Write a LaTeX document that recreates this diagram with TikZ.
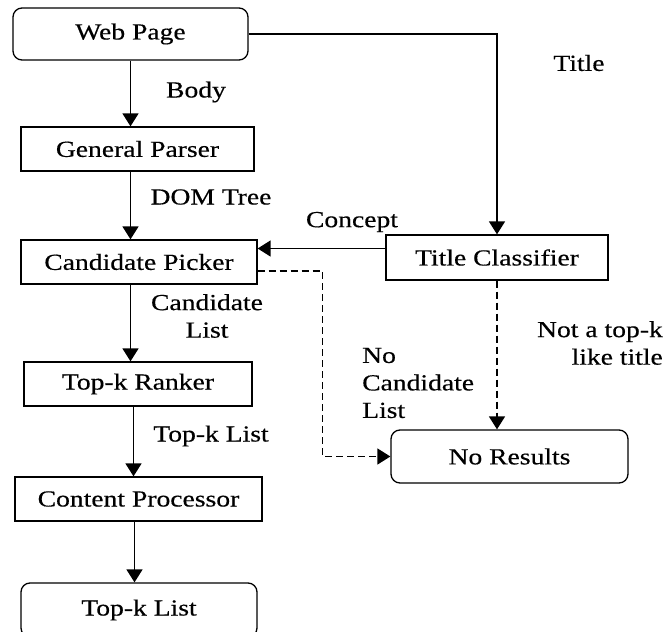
\documentclass[tikz,border=0pt]{standalone}
\usepackage{fontspec}
\setmainfont[FakeStretch=1.2, FakeBold=0.4]{Liberation Serif}
\usetikzlibrary{arrows.meta}
\tikzset{
    box/.style={draw, rectangle, line width=1.3pt, minimum height=44pt, inner sep=2pt},
    rbox/.style={box, rounded corners=9pt, minimum height=52pt},
    arr/.style={line width=1.6pt, -{Triangle[width=16pt,length=13pt]}},
    lbl/.style={inner sep=0pt, align=center}
}

\begin{document}
\begin{tikzpicture}[x=1pt, y=-1pt, font=\fontsize{23}{27.5}\selectfont]
    \clip (0,0) rectangle (665,632);

    \node[rbox, minimum width=235pt] (web) at (130.5,34) {Web Page};
    \node[box, minimum width=233pt] (parser) at (137.5,149) {General Parser};
    \node[box, minimum width=236pt] (picker) at (139,262) {Candidate Picker};
    \node[box, minimum width=222pt, minimum height=45pt] (classifier) at (497,257.5) {Title Classifier};
    \node[box, minimum width=228pt] (ranker) at (138,384) {Top-k Ranker};
    \node[box, minimum width=247pt] (processor) at (138.5,499) {Content Processor};
    \node[rbox, minimum width=236pt, minimum height=54pt] (topk) at (139,610) {Top-k List};
    \node[rbox, minimum width=237pt, minimum height=53pt] (results) at (509.5,456.5) {No Results};

    % main column
    \draw[arr] (web.south) -- (web.south |- parser.north);
    \draw[arr] (parser.south -| web) -- (picker.north -| web);
    \draw[arr] (picker.south -| web) -- (ranker.north -| web);
    \draw[arr] ([xshift=3pt]ranker.south -| web) -- ([xshift=3pt]processor.north -| web);
    \draw[arr] ([xshift=4pt]processor.south -| web) -- ([xshift=4pt]topk.north -| web);

    % title branch
    \draw[arr] (web.east) -| (classifier.north);
    \draw[arr] ([yshift=9pt]classifier.west) -- ([yshift=9pt]classifier.west -| picker.east);

    % no results
    \draw[arr, dashed, dash pattern=on 7pt off 4pt] ([yshift=-9pt]picker.east) -- ++(65,0) |- (results.west);
    \draw[arr, dashed, dash pattern=on 7pt off 4pt] (classifier.south) -- (classifier |- results.north);

    \node[lbl] (body) at (196,92) {Body};
    \node[lbl] (dom) at (211,197) {DOM Tree};
    \node[lbl] (concept) at (352,222) {Concept};
    \node[lbl] (title) at (579,63) {Title};
    \node[lbl] (candlist) at (207,316) {Candidate\\List};
    \node[lbl] (toplist) at (211,436) {Top-k List};
    \node[lbl, anchor=east, align=right] (nottop) at (663,343) {Not a top-k\\like title};
    \node[lbl, anchor=west, align=left] (nocand) at (362,383) {No\\Candidate\\List};
\end{tikzpicture}
\end{document}
